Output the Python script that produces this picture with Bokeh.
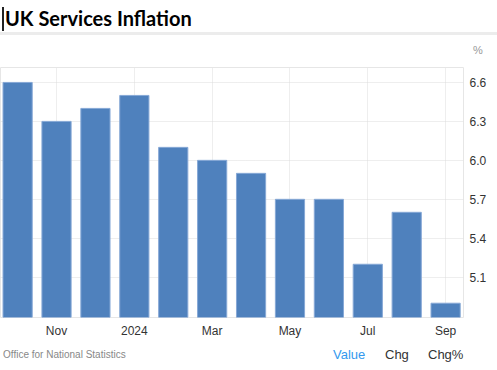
from bokeh.plotting import figure
from bokeh.models import Range1d, FixedTicker, ColumnDataSource, Div
from bokeh.layouts import column
from bokeh.embed import file_html
from bokeh.resources import INLINE

# ---- data ----
months = ["Oct", "Nov", "Dec", "Jan", "Feb", "Mar", "Apr", "May", "Jun", "Jul", "Aug", "Sep"]
values = [6.6, 6.3, 6.4, 6.5, 6.1, 6.0, 5.9, 5.7, 5.7, 5.2, 5.6, 4.9]
tick_positions = [1, 3, 5, 7, 9, 11]
tick_labels = ["Nov", "2024", "Mar", "May", "Jul", "Sep"]
y_ticks = [5.1, 5.4, 5.7, 6.0, 6.3, 6.6]

W = 497
HEAD_H, FIG_H, FOOT_H = 60, 280, 30
FR = 463
FRAME_TOP, FRAME_H = 7, 250
X0, X1 = -0.44, 11.46
Y0, Y1 = 4.79, 6.715

head = Div(width=W, height=HEAD_H, margin=0, text=(
    '<div style="position:relative;width:497px;height:60px;">'
    '<div style="position:absolute;left:2px;top:7px;width:1.5px;height:24px;background:#222;"></div>'
    '<div style="position:absolute;left:5px;top:8px;font-family:Lato;font-weight:bold;'
    'font-size:20px;line-height:21px;color:#000;white-space:nowrap;">UK Services Inflation</div>'
    '<div style="position:absolute;left:0px;top:32px;width:497px;height:3px;background:#ececec;"></div>'
    '<div style="position:absolute;left:473px;top:43px;font-family:\'Liberation Sans\';'
    'font-size:11px;line-height:14px;color:#999;">%</div>'
    '</div>'))

p = figure(width=W, height=FIG_H, output_backend="svg", toolbar_location=None,
           x_range=Range1d(X0, X1), y_range=Range1d(Y0, Y1),
           y_axis_location="right", min_border_left=0, min_border_top=FRAME_TOP,
           min_border_right=W - FR, min_border_bottom=FIG_H - FRAME_TOP - FRAME_H,
           margin=0)

src = ColumnDataSource(dict(x=list(range(len(months))), top=values, m=months))
p.vbar(x="x", top="top", bottom=Y0, width=0.75, source=src,
       fill_color="#4f81bd", line_color="#86a8d6", line_width=1)

p.outline_line_color = "#e6e6e6"

for ax in (p.xaxis[0], p.yaxis[0]):
    ax.axis_line_color = None
    ax.major_tick_line_color = None
    ax.minor_tick_line_color = None
    ax.major_label_text_font = "Liberation Sans"
    ax.major_label_text_font_size = "12px"
    ax.major_label_text_color = "#333333"

p.xaxis.ticker = FixedTicker(ticks=tick_positions)
p.xaxis.major_label_overrides = {t: l for t, l in zip(tick_positions, tick_labels)}
p.xaxis.major_label_standoff = 0
p.yaxis.ticker = FixedTicker(ticks=y_ticks)
p.yaxis.major_label_overrides = {t: f"{t:.1f}" for t in y_ticks}
p.yaxis.major_label_standoff = 0

p.xgrid.ticker = FixedTicker(ticks=tick_positions)
p.xgrid.grid_line_color = "#dddddd"
p.xgrid.grid_line_dash = "1 1"
p.ygrid.ticker = FixedTicker(ticks=y_ticks)
p.ygrid.grid_line_color = "#dddddd"
p.ygrid.grid_line_dash = "1 1"

foot = Div(width=W, height=FOOT_H, margin=0, text=(
    '<div style="position:relative;width:497px;height:30px;font-family:\'Liberation Sans\';">'
    '<div style="position:absolute;left:3px;top:8px;font-size:10px;line-height:14px;color:#888;">'
    'Office for National Statistics</div>'
    '<div style="position:absolute;left:333px;top:7px;font-size:13px;line-height:16px;color:#3399ee;">Value</div>'
    '<div style="position:absolute;left:385px;top:7px;font-size:13px;line-height:16px;color:#333;">Chg</div>'
    '<div style="position:absolute;left:428px;top:7px;font-size:13px;line-height:16px;color:#333;">Chg%</div>'
    '</div>'))

layout = column(head, p, foot, spacing=0, margin=0)
open("out.html", "w").write(file_html(layout, INLINE))
